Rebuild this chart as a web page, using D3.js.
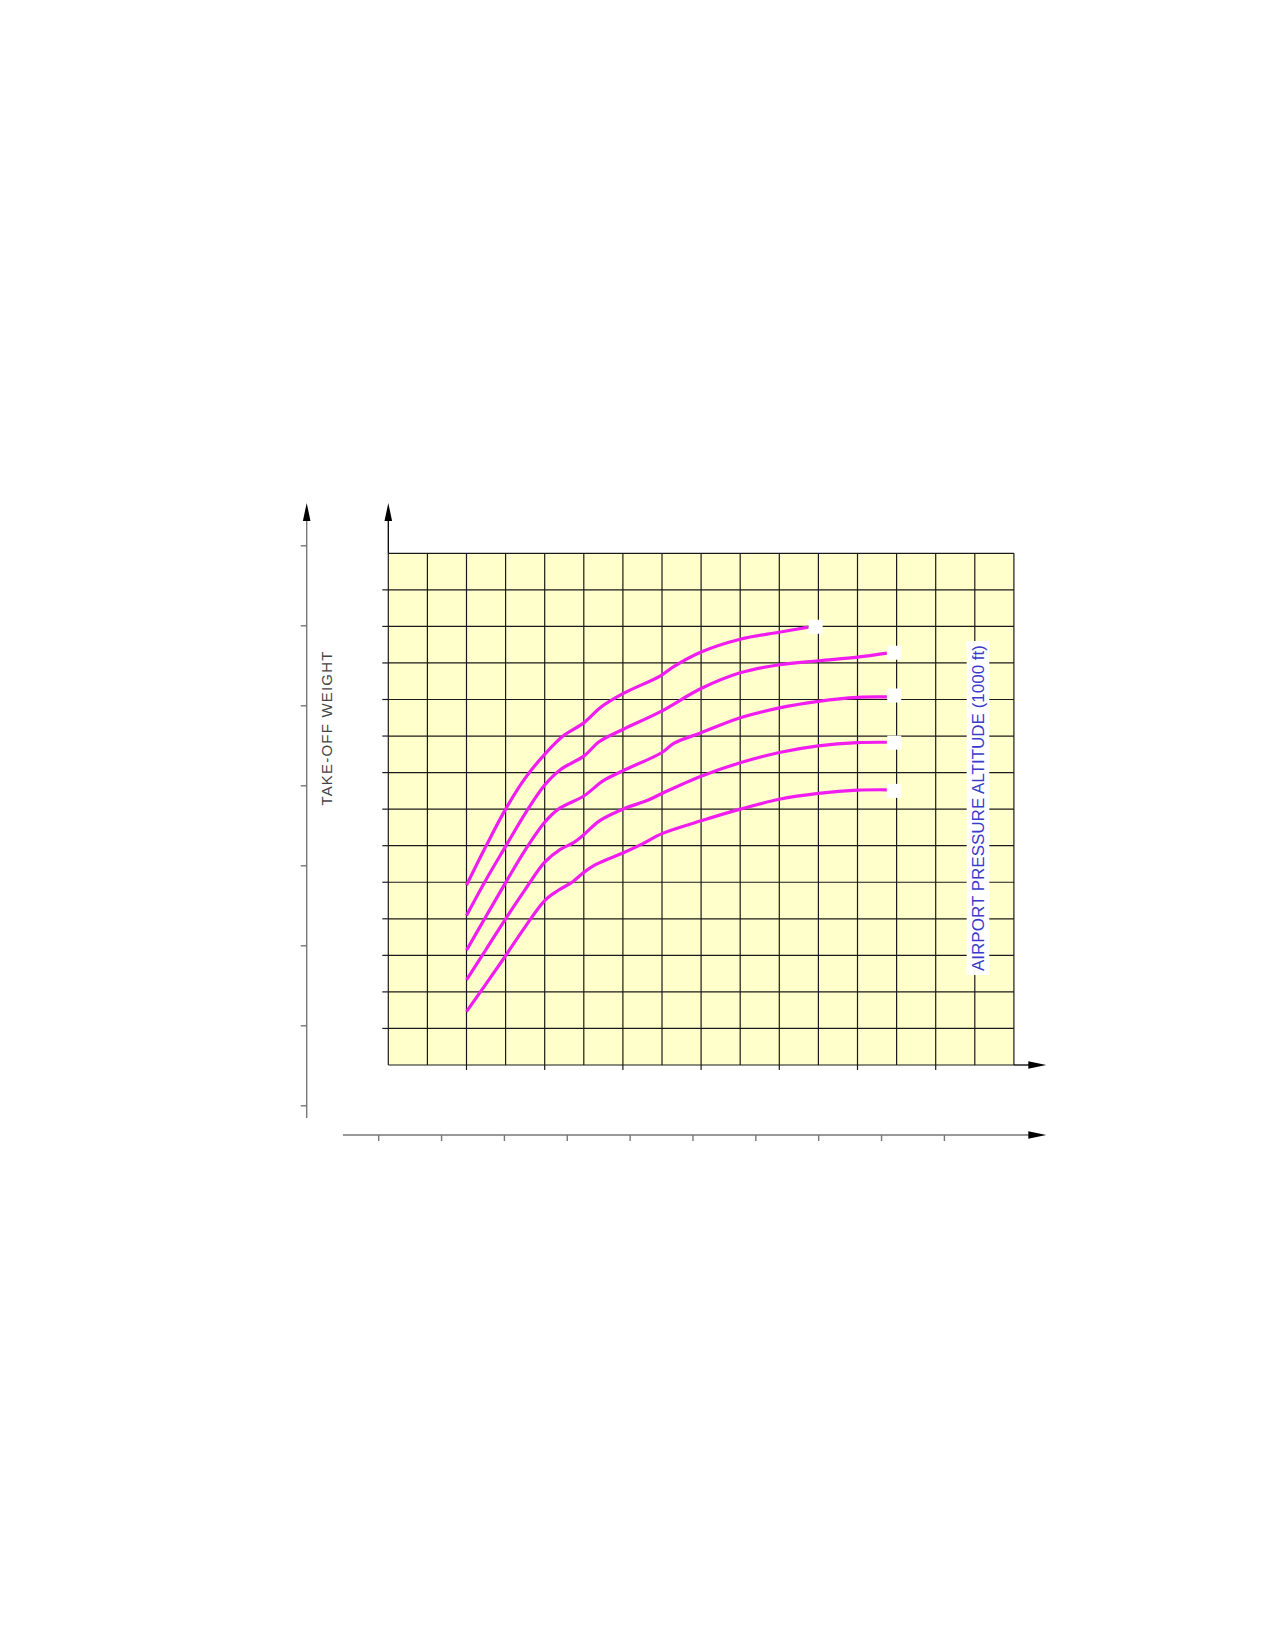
<!DOCTYPE html>
<head>
<meta charset="UTF-8">
<title>Take-off weight chart</title>
<script type="text/javascript" src="https://cdnjs.cloudflare.com/ajax/libs/d3/7.8.5/d3.min.js"></script>
<style>
body
{
margin:0;
background:white;
}
.grid line
{
stroke:#1a1a1a;
stroke-width:1.2;
}
.outer path, .outer line
{
stroke:#777;
stroke-width:1.4;
}
.wlabel
{
font-family:"Liberation Sans", Arial, sans-serif;
font-size:15px;
fill:#444;
letter-spacing:1.2px;
}
.alabel
{
font-family:"Liberation Sans", Arial, sans-serif;
font-size:17px;
fill:#3a3acc;
}
</style>
</head>

<body>
<div id="chart"></div>

<script type="text/javascript">
var width=1275;
var height=1645;

// grid: 16 columns x 14 rows, curves given in grid units (x right, y up)
var gridCols=d3.range(0,17);
var gridRows=d3.range(0,15);
var innerXTicks=[2,4,6,8,10,12,14];
var innerYTicks=d3.range(1,14);
var weightTicks=d3.range(0,8);   // outer take-off weight axis (no labels)
var bottomTicks=d3.range(0,10);  // outer bottom axis (no labels)

var altLabel="AIRPORT PRESSURE ALTITUDE (1000 ft)";
var weightLabel="TAKE-OFF WEIGHT";

var curve1=[[2,4.92],[2.5,5.99],[3,7.0],[3.5,7.85],[4,8.5],[4.47,9.0],[5,9.36],[5.45,9.8],[6,10.16],[6.95,10.64],[7.3,10.9],[8,11.3],[9,11.65],[10,11.84],[10.75,11.98]];
var curve2=[[2,4.09],[2.5,5.07],[3,5.98],[3.5,6.88],[4,7.66],[4.4,8.08],[5,8.45],[5.4,8.85],[6,9.18],[6.95,9.66],[8,10.3],[9,10.73],[10,10.95],[11,11.06],[12,11.16],[12.75,11.27]];
var curve3=[[2,3.14],[2.5,4.07],[3,4.99],[3.5,5.88],[4,6.64],[4.35,7.0],[5,7.36],[5.5,7.78],[6,8.05],[7,8.55],[7.3,8.8],[8,9.09],[9,9.5],[10,9.77],[11,9.95],[12,10.06],[12.75,10.07]];
var curve4=[[2,2.33],[2.5,3.16],[3,4.0],[3.5,4.8],[4,5.55],[4.4,5.9],[4.75,6.09],[5,6.3],[5.4,6.68],[6,7.0],[6.65,7.25],[7,7.43],[8,7.9],[9,8.27],[10,8.55],[11,8.73],[12,8.82],[12.75,8.83]];
var curve5=[[2,1.46],[2.5,2.22],[3,2.99],[3.5,3.78],[4,4.5],[4.35,4.78],[4.7,5.0],[5,5.27],[5.3,5.48],[6,5.8],[6.5,6.05],[7,6.33],[8,6.68],[9,7.0],[10,7.27],[11,7.43],[12,7.52],[12.75,7.53]];
var curveEnds=[[10.93,11.99],[12.94,11.28],[12.94,10.11],[12.94,8.82],[12.94,7.5]];

var svg=d3.select("#chart").append("svg").attr("width",width).attr("height",height);

var x=d3.scaleLinear().domain([0,16]).range([388.3,1013.9]);
var y=d3.scaleLinear().domain([0,14]).range([1065,553.3]);
var wScale=d3.scaleLinear().domain([0,7]).range([1105.3,545.3]);
var bScale=d3.scaleLinear().domain([0,9]).range([378.2,943.9]);

function arrow(g,px,py,dir)
{
// small filled triangle, dir "up" or "right"
var p=dir=="up" ? [[px,py],[px-3.8,py+18],[px+3.8,py+18]] : [[px,py],[px-18,py-3.8],[px-18,py+3.8]];
g.append("path").attr("d","M"+p.join("L")+"Z").attr("fill","black");
}

// outer take-off weight axis
var outerY=svg.append("g").attr("class","outer").attr("transform","translate(306.7,0)")
  .call(d3.axisLeft(wScale).tickValues(weightTicks).tickFormat("").tickSize(6).tickSizeOuter(0));
outerY.select(".domain").remove();
outerY.append("line").attr("x1",0).attr("x2",0).attr("y1",515).attr("y2",1118);
arrow(svg,306.7,503,"up");

// outer bottom axis
var outerX=svg.append("g").attr("class","outer").attr("transform","translate(0,1135)")
  .call(d3.axisBottom(bScale).tickValues(bottomTicks).tickFormat("").tickSize(6).tickSizeOuter(0));
outerX.select(".domain").remove();
outerX.selectAll(".tick line").attr("stroke","#333");
outerX.append("line").attr("x1",342.9).attr("x2",1032).attr("y1",0).attr("y2",0);
arrow(svg,1046.3,1135,"right");

// plot background
svg.append("rect")
  .attr("x",x(0)).attr("y",y(14))
  .attr("width",x(16)-x(0)).attr("height",y(0)-y(14))
  .attr("fill","#ffffcc");

var grid=svg.append("g").attr("class","grid");
grid.selectAll(".vl").data(gridCols).enter().append("line")
  .attr("x1",function(d){return x(d);}).attr("x2",function(d){return x(d);})
  .attr("y1",y(0)).attr("y2",y(14));
grid.selectAll(".hl").data(gridRows).enter().append("line")
  .attr("x1",x(0)).attr("x2",x(16))
  .attr("y1",function(d){return y(d);}).attr("y2",function(d){return y(d);});

// short ticks on the inner axes
grid.selectAll(".xt").data(innerXTicks).enter().append("line")
  .attr("x1",function(d){return x(d);}).attr("x2",function(d){return x(d);})
  .attr("y1",y(0)).attr("y2",y(0)+5);
grid.selectAll(".yt").data(innerYTicks).enter().append("line")
  .attr("x1",x(0)-6).attr("x2",x(0))
  .attr("y1",function(d){return y(d);}).attr("y2",function(d){return y(d);});

// inner axis arrows
svg.append("line").attr("x1",x(0)).attr("x2",x(0)).attr("y1",y(14)).attr("y2",515).attr("stroke","black").attr("stroke-width",1.3);
arrow(svg,x(0),503,"up");
svg.append("line").attr("x1",x(16)).attr("x2",1032).attr("y1",y(0)).attr("y2",y(0)).attr("stroke","black").attr("stroke-width",1.3);
arrow(svg,1046.3,y(0),"right");

// altitude label with white box
var lab=svg.append("g").attr("transform","translate(978,808) rotate(-90)");
var t=lab.append("text").attr("class","alabel").attr("text-anchor","middle").attr("y",6).text(altLabel);
var bb=t.node().getBBox();
lab.insert("rect","text").attr("x",bb.x-4).attr("y",-11.3).attr("width",bb.width+8).attr("height",22.6).attr("fill","white");

// curves
var line=d3.line().x(function(d){return x(d[0]);}).y(function(d){return y(d[1]);}).curve(d3.curveCatmullRom.alpha(0.5));
svg.selectAll(".curve").data([curve1,curve2,curve3,curve4,curve5]).enter().append("path")
  .attr("d",line)
  .attr("fill","none")
  .attr("stroke","#f01cf0")
  .attr("stroke-width",3.2);

// white squares at curve ends
svg.selectAll(".endsq").data(curveEnds).enter().append("rect")
  .attr("x",function(d){return x(d[0])-7;})
  .attr("y",function(d){return y(d[1])-7;})
  .attr("width",14).attr("height",14)
  .attr("fill","white");

svg.append("text")
  .attr("class","wlabel")
  .attr("text-anchor","middle")
  .attr("transform","translate(332,728) rotate(-90)")
  .text(weightLabel);
</script>
</body>
</html>
